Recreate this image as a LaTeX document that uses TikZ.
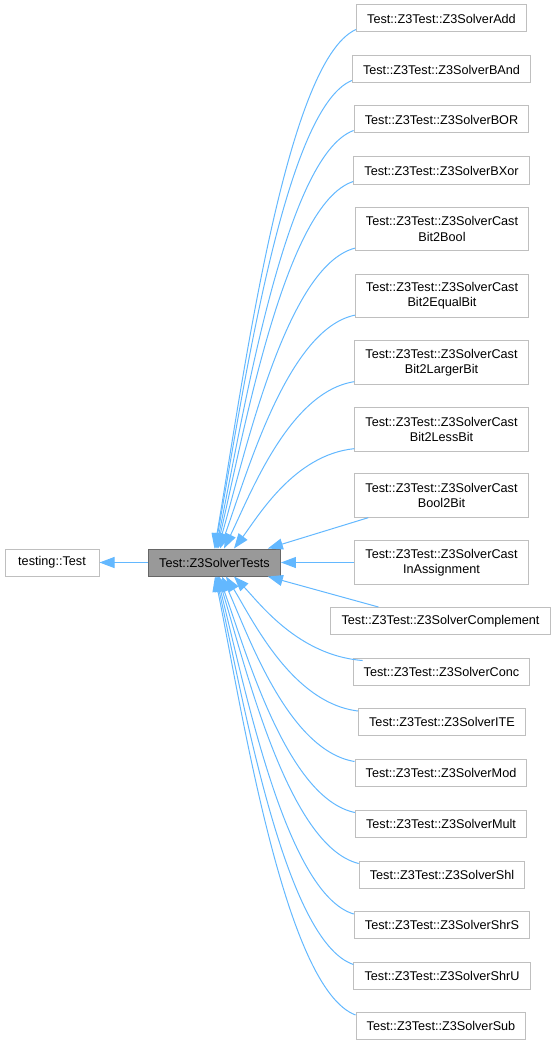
\documentclass[tikz,border=0pt]{standalone}
\usepackage{fontspec}
\setmainfont{Liberation Sans}
\usetikzlibrary{arrows.meta,calc}
\definecolor{edgeblue}{HTML}{63B8FF}
\definecolor{boxline}{HTML}{BFBFBF}
\definecolor{mainfill}{HTML}{999999}
\definecolor{mainline}{HTML}{666666}
\tikzset{
  cls/.style={draw=boxline, line width=0.75pt, fill=white, inner xsep=8pt, inner ysep=0pt,
    minimum height=20.25pt, align=center, font=\fontsize{9.5}{11.5}\selectfont},
  cls2/.style={cls, minimum height=32.5pt},
  inherit/.style={draw=edgeblue, line width=0.75pt, arrows={Triangle[length=11.25pt,width=8.25pt]-}}
}
\begin{document}
\begin{tikzpicture}[x=0.75pt,y=-0.75pt]
  \useasboundingbox (0,0) rectangle (559,1045);
  % base and main class
  \node[cls, minimum width=70.5pt] (base) at (52,562.5) {testing::Test};
  \node[cls, fill=mainfill, draw=mainline] (tests) at (214.5,562.5) {Test::Z3SolverTests};
  % derived classes
  \node[cls] (add) at (441.5,18.5) {Test::Z3Test::Z3SolverAdd};
  \node[cls] (band) at (441.5,69.5) {Test::Z3Test::Z3SolverBAnd};
  \node[cls] (bor) at (441.5,119.5) {Test::Z3Test::Z3SolverBOR};
  \node[cls] (bxor) at (441.5,170.5) {Test::Z3Test::Z3SolverBXor};
  \node[cls2] (bitbool) at (442,229) {Test::Z3Test::Z3SolverCast\\Bit2Bool};
  \node[cls2] (bitequal) at (442,296) {Test::Z3Test::Z3SolverCast\\Bit2EqualBit};
  \node[cls2] (bitlarger) at (441.5,362.5) {Test::Z3Test::Z3SolverCast\\Bit2LargerBit};
  \node[cls2] (bitless) at (441.5,429.5) {Test::Z3Test::Z3SolverCast\\Bit2LessBit};
  \node[cls2] (boolbit) at (441.5,495.5) {Test::Z3Test::Z3SolverCast\\Bool2Bit};
  \node[cls2] (inassign) at (441.5,562.5) {Test::Z3Test::Z3SolverCast\\InAssignment};
  \node[cls] (complement) at (440.5,621) {Test::Z3Test::Z3SolverComplement};
  \node[cls] (conc) at (441.5,671.5) {Test::Z3Test::Z3SolverConc};
  \node[cls] (ite) at (442,722) {Test::Z3Test::Z3SolverITE};
  \node[cls] (mod) at (441,772.5) {Test::Z3Test::Z3SolverMod};
  \node[cls] (mult) at (441,823.5) {Test::Z3Test::Z3SolverMult};
  \node[cls] (shl) at (442,874.5) {Test::Z3Test::Z3SolverShl};
  \node[cls] (shrs) at (442,925) {Test::Z3Test::Z3SolverShrS};
  \node[cls] (shru) at (442,975.5) {Test::Z3Test::Z3SolverShrU};
  \node[cls] (sub) at (441,1026) {Test::Z3Test::Z3SolverSub};
  % inheritance
  \draw[inherit] (base.east) -- (tests.west);
  \draw[inherit] (tests.east) -- (inassign.west);
  \draw[inherit] ([xshift=40pt]tests.north) -- ($(boolbit.south west)+(14,0)$);
  \draw[inherit] ([xshift=40pt]tests.south) -- ($(complement.north west)+(48,0)$);
  \foreach \kid/\off in {add/0,band/0.5,bor/1.5,bxor/2.5,bitbool/3.5,bitequal/5.5,bitlarger/9.5,bitless/19.5}
    \draw[inherit] let \p1=([xshift=\off*0.75pt]tests.north), \p2=($(\kid.south west)+(0,-3)$) in
      (\p1) .. controls ({\x1+0.2*(\x2-\x1)},{\y1+0.32*(\y2-\y1)}) and ({\x2-0.5*(\x2-\x1)},{\y2-0.06*(\y2-\y1)}) .. (\p2);
  \foreach \kid/\off/\sx in {conc/19.5/10,ite/11.5/0,mod/7.5/0,mult/4.5/0,shl/3.5/0,shrs/2.5/0,shru/1.5/0,sub/0.5/0}
    \draw[inherit] let \p1=([xshift=\off*0.75pt]tests.south), \p2=($(\kid.north west)+(\sx,3)$) in
      (\p1) .. controls ({\x1+0.2*(\x2-\x1)},{\y1+0.32*(\y2-\y1)}) and ({\x2-0.5*(\x2-\x1)},{\y2-0.06*(\y2-\y1)}) .. (\p2);
\end{tikzpicture}
\end{document}
